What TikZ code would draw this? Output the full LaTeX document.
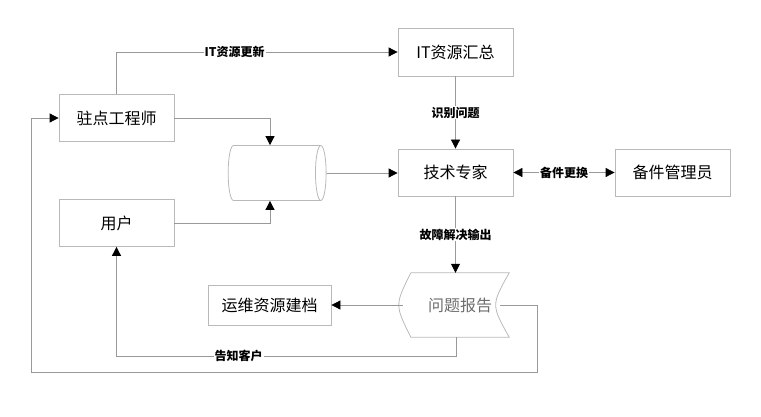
\documentclass[tikz,border=0pt]{standalone}
\usepackage{fontspec}
\setmainfont{Noto Sans CJK SC}
\usetikzlibrary{shapes.geometric,arrows.meta,positioning}
\tikzset{
  box/.style={draw=gray!55, line width=0.8pt, minimum width=115pt, minimum height=47pt, font=\fontsize{16}{18}\selectfont},
  conn/.style={draw=gray!80, line width=0.8pt},
  arr/.style={conn, -{Triangle[length=9pt,width=9pt,color=black]}},
  biarr/.style={conn, {Triangle[length=9pt,width=9pt,color=black]}-{Triangle[length=9pt,width=9pt,color=black]}},
  lbl/.style={fill=white, inner sep=1pt, font=\fontsize{12}{14}\selectfont\bfseries},
}
\begin{document}
\begin{tikzpicture}[x=1pt,y=-1pt]
  \useasboundingbox (0,0) rectangle (761,417);
  % boxes
  \node[box] (engineer) at (116.5,118) {驻点工程师};
  \node[box] (user) at (116.5,223) {用户};
  \node[box, minimum height=48pt] (summary) at (455.5,52) {IT资源汇总};
  \node[box] (expert) at (455.5,172.5) {技术专家};
  \node[box] (keeper) at (672.5,172.5) {备件管理员};
  \node[box, minimum width=123pt, minimum height=40pt] (archive) at (269.5,305) {运维资源建档};
  \node[cylinder, shape border rotate=0, draw=gray!55, line width=0.8pt, aspect=1.6,
        minimum width=55pt, minimum height=98pt] (store) at (273,173) {};
  \node[minimum width=98pt, minimum height=64pt, text=gray!85!black,
        font=\fontsize{16}{18}\selectfont] (report) at (460,305) {问题报告};
  \draw[draw=gray!55, line width=0.8pt] (report.north west) -- (report.north east)
    .. controls ([xshift=-18pt]report.east) .. (report.south east) -- (report.south west)
    .. controls ([xshift=-16pt]report.west) .. (report.north west);
  \coordinate (loopR) at (537,372);
  \coordinate (loopL) at (31,372);
  % connectors
  \draw[arr] (engineer.north) |- node[lbl, pos=0.71] {IT资源更新} (summary.west);
  \draw[arr] (engineer.east) -| ([xshift=-3pt]store.north);
  \draw[arr] (user.east) -| ([xshift=-3pt]store.south);
  \draw[arr] (store.east) -- (store.east -| expert.west);
  \draw[arr] (summary) -- node[lbl] {识别问题} (expert);
  \draw[biarr] (expert) -- node[lbl] {备件更换} (keeper);
  \draw[arr] (expert.south) -- node[lbl] {故障解决输出} (expert.south |- report.north);
  \draw[arr] ([xshift=-8pt]report.west) -- (archive.east);
  \draw[arr] ([xshift=-4pt]report.south) -- ++(0,19) -| node[lbl, pos=0.32] {告知客户} (user.south);
  \draw[arr] ([xshift=-9pt]report.east) -| (loopR) -- (loopL) |- (engineer.west);
\end{tikzpicture}
\end{document}
